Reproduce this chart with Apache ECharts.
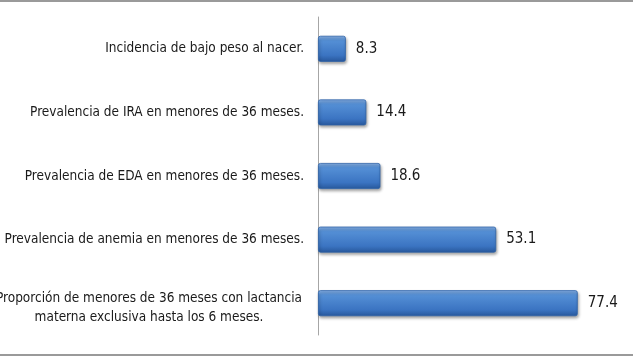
<!DOCTYPE html>
<html>
<head>
<meta charset="utf-8">
<script src="https://cdn.jsdelivr.net/npm/echarts@6/dist/echarts.min.js"></script>
<style>
  html, body { margin: 0; padding: 0; background: #fff; }
  #main { width: 633px; height: 358px; }
</style>
</head>
<body>
<div id="main"></div>
<script>
// categories from bottom to top (category axis on y starts at the bottom)
var categorias = [
    "Proporción de menores de 36 meses con lactancia\nmaterna exclusiva hasta los 6 meses.",
    "Prevalencia de anemia en menores de 36 meses.",
    "Prevalencia de EDA en menores de 36 meses.",
    "Prevalencia de IRA en menores de 36 meses.",
    "Incidencia de bajo peso al nacer."
]
var valores = [77.4, 53.1, 18.6, 14.4, 8.3]

var fuente = "'Liberation Sans Narrow', 'DejaVu Sans Condensed', sans-serif"

var barColor = {
    type: 'linear', x: 0, y: 0, x2: 0, y2: 1,
    colorStops: [
        { offset: 0, color: '#8ab2e6' },
        { offset: 0.18, color: '#5590d6' },
        { offset: 0.75, color: '#3b74c2' },
        { offset: 1, color: '#27579b' }
    ]
}

var option = {
    animation: false,
    backgroundColor: '#fff',
    grid: {
        left: 318,
        right: 13,
        top: 17,
        bottom: 23,
        containLabel: false,
        outerBoundsMode: 'none',
    },
    xAxis: {
        type: 'value',
        min: 0,
        max: 90,
        show: false,
    },
    yAxis: {
        type: 'category',
        data: categorias,
        axisLine: { show: true, lineStyle: { color: '#a6a6a6', width: 1 } },
        axisTick: { show: false },
        axisLabel: {
            margin: 14,
            color: '#1a1a1a',
            fontFamily: fuente,
            fontSize: 13.5,
            lineHeight: 19,
            formatter: function (v, i) {
                if (v.indexOf('\n') >= 0) {
                    return '{w|' + v + '}'
                }
                return v
            },
            rich: {
                w: {
                    width: 310,
                    align: 'center',
                    padding: [10, 0, 0, 0],
                    fontFamily: fuente,
                    fontSize: 13.5,
                    lineHeight: 19,
                    color: '#1a1a1a',
                }
            }
        },
    },
    series: [
        {
            type: 'bar',
            data: valores,
            barWidth: 26,
            itemStyle: {
                color: barColor,
                borderColor: '#2f63a8',
                borderWidth: 0.8,
                borderRadius: 2,
                shadowColor: 'rgba(0,0,0,0.35)',
                shadowBlur: 3,
                shadowOffsetX: 1,
                shadowOffsetY: 2,
            },
            label: {
                show: true,
                position: 'right',
                distance: 10,
                color: '#1a1a1a',
                fontFamily: fuente,
                fontSize: 15,
                formatter: function (p) { return p.value.toFixed(1) }
            }
        }
    ],
    graphic: [
        { type: 'rect', shape: { x: 0, y: 0, width: 633, height: 2 }, style: { fill: '#9a9a9a' } },
        { type: 'rect', shape: { x: 0, y: 354, width: 633, height: 2 }, style: { fill: '#9a9a9a' } }
    ]
}

var myChart = echarts.init(document.getElementById('main'))
myChart.setOption(option, true)
</script>
</body>
</html>
